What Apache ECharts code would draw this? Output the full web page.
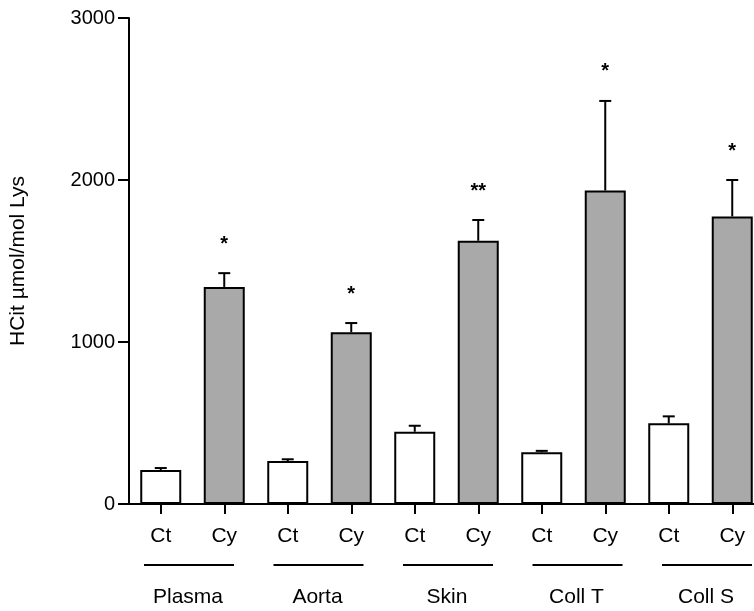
<!DOCTYPE html>
<html>
<head>
<meta charset="utf-8">
<script src="https://cdn.jsdelivr.net/npm/echarts@6/dist/echarts.min.js"></script>
<style>html,body{margin:0;padding:0;background:#fff}#c{width:754px;height:611px}</style>
</head>
<body>
<div id="c"></div>
<script>
const categories = ['Ct','Cy','Ct','Cy','Ct','Cy','Ct','Cy','Ct','Cy'];
const groups = ['Plasma','Aorta','Skin','Coll T','Coll S'];
const means = [210,1340,265,1060,446,1625,320,1935,498,1775];
const sems = [12,85,11,57,37,128,8,553,43,225];
const significance = ['','*','','*','','**','','*','','*'];
const yTicks = [0,1000,2000,3000];

const FONT = '"Liberation Sans", Arial, Helvetica, sans-serif';
const chart = echarts.init(document.getElementById('c'), null, {renderer:'canvas'});

chart.setOption({
  animation: false,
  backgroundColor: '#fff',
  grid: {left: 129, top: 18, width: 635, bottom: 107, containLabel: false, outerBoundsMode: 'none'},
  xAxis: {
    type: 'category',
    data: categories,
    axisLine: {lineStyle: {color: '#000', width: 2}},
    axisTick: {show: true, alignWithLabel: true, length: 10, lineStyle: {color: '#000', width: 2}},
    axisLabel: {color: '#000', fontSize: 21, fontFamily: FONT, margin: 22, interval: 0}
  },
  yAxis: {
    type: 'value',
    min: yTicks[0], max: yTicks[yTicks.length-1], interval: 1000,
    name: 'HCit µmol/mol Lys',
    nameLocation: 'middle',
    nameGap: 100,
    nameTextStyle: {color: '#000', fontSize: 21, fontFamily: FONT},
    axisLine: {show: true, lineStyle: {color: '#000', width: 2}},
    axisTick: {show: true, length: 11, lineStyle: {color: '#000', width: 2}},
    axisLabel: {color: '#000', fontSize: 20, fontFamily: FONT, margin: 14, formatter: v => String(v)},
    splitLine: {show: false}
  },
  series: [
    {
      type: 'custom',
      z: 1,
      data: means.map((m, i) => [i, m, sems[i]]),
      renderItem: function (params, api) {
        const i = api.value(0), m = api.value(1), e = api.value(2);
        const base = api.coord([i, m]);
        const top = api.coord([i, m + e]);
        const children = [
          {type: 'line', shape: {x1: base[0], y1: base[1], x2: top[0], y2: top[1]}, style: {stroke: '#000', lineWidth: 2}},
          {type: 'line', shape: {x1: top[0] - 6, y1: top[1], x2: top[0] + 6, y2: top[1]}, style: {stroke: '#000', lineWidth: 2}}
        ];
        const s = significance[params.dataIndex];
        if (s) {
          children.push({type: 'text', style: {text: s, x: top[0], y: top[1] - 29, fill: '#000',
            font: 'bold 20px ' + FONT, align: 'center', verticalAlign: 'middle'}});
        }
        return {type: 'group', children: children};
      }
    },
    {
      type: 'bar',
      z: 2,
      barWidth: 41,
      data: means.map((v, i) => ({value: v, itemStyle: {color: i % 2 ? '#a9a9a9' : '#ffffff'}})),
      itemStyle: {borderColor: '#000', borderWidth: 2}
    },
    {
      type: 'custom',
      clip: false,
      silent: true,
      data: groups.map((g, i) => [i]),
      renderItem: function (params, api) {
        const g = api.value(0);
        const p0 = api.coord([2 * g, 0]);
        const p1 = api.coord([2 * g + 1, 0]);
        const cx = (p0[0] + p1[0]) / 2 + (g - 2) * 2.5 + 1.5;
        return {type: 'group', children: [
          {type: 'line', shape: {x1: cx - 45, y1: p0[1] + 61, x2: cx + 45, y2: p0[1] + 61}, style: {stroke: '#000', lineWidth: 2}},
          {type: 'text', style: {text: groups[params.dataIndex], x: cx - 1, y: p0[1] + 93, fill: '#000',
            font: '21px ' + FONT, align: 'center', verticalAlign: 'middle'}}
        ]};
      }
    }
  ]
});
</script>
</body>
</html>
